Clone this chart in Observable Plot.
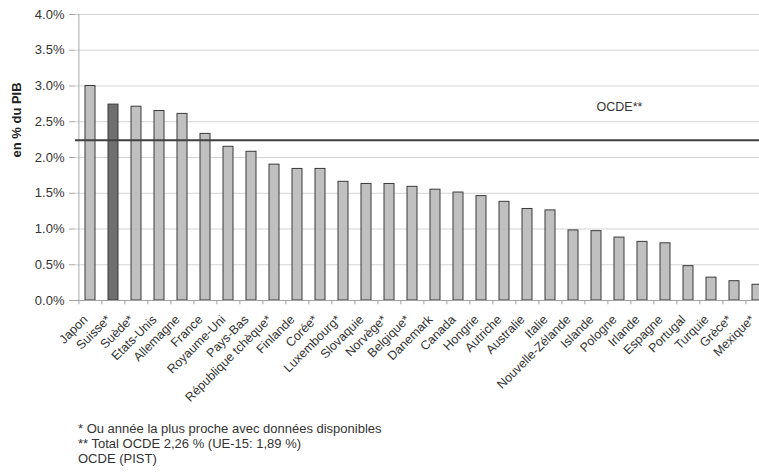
<!DOCTYPE html>
<html>
<head>
<meta charset="utf-8">
<script src="https://cdn.jsdelivr.net/npm/d3@7"></script>
<script src="https://cdn.jsdelivr.net/npm/@observablehq/plot@0.6"></script>
<style>
  html, body { margin: 0; padding: 0; background: #fff; overflow: hidden; width: 759px; height: 475px; }
  #chart svg { display: block; overflow: hidden; }
  #notes { font-family: "Liberation Sans", Arial, sans-serif; font-size: 13px; color: #333; margin-left: 78px; margin-top: 11px; line-height: 15px; }
</style>
</head>
<body>
<div id="chart"></div>
<div id="notes">
  <div>* Ou année la plus proche avec données disponibles</div>
  <div>** Total OCDE 2,26 % (UE-15: 1,89 %)</div>
  <div>OCDE (PIST)</div>
</div>
<script>
const countries = ["Japon","Suisse*","Suède*","Etats-Unis","Allemagne","France","Royaume-Uni","Pays-Bas","République tchèque*","Finlande","Corée*","Luxembourg*","Slovaquie","Norvège*","Belgique*","Danemark","Canada","Hongrie","Autriche","Australie","Italie","Nouvelle-Zélande","Islande","Pologne","Irlande","Espagne","Portugal","Turquie","Grèce*","Mexique*"];
const values = [3.00,2.74,2.71,2.65,2.61,2.33,2.15,2.08,1.90,1.84,1.84,1.66,1.63,1.63,1.59,1.55,1.51,1.46,1.38,1.28,1.26,0.98,0.97,0.88,0.82,0.80,0.48,0.32,0.27,0.22];
const highlighted = ["Suisse*"];
const ocdeValue = 2.24;
const ocdeLabel = "OCDE**";
const yTicks = [0,0.5,1,1.5,2,2.5,3,3.5,4];
const yLabel = "en % du PIB";

const data = countries.map((c, i) => ({country: c, value: values[i], hi: highlighted.includes(c)}));
const font = "Liberation Sans, Arial, sans-serif";
const half = 697 / 30 / 2;

const chart = Plot.plot({
  width: 759,
  height: 410,
  marginLeft: 75,
  marginRight: 0,
  marginTop: 14,
  marginBottom: 110,
  style: {fontFamily: font, fontSize: "12px", color: "#333", background: "#fff"},
  x: {type: "band", domain: countries, range: [75, 772], paddingInner: 0.56, paddingOuter: 0, align: 0.5},
  y: {domain: [0, 4], range: [300, 14]},
  marks: [
    Plot.gridY(yTicks, {stroke: "#d4d4d4", strokeOpacity: 1, strokeWidth: 1}),
    Plot.ruleX([countries[0]], {x: d => d, y1: 0, y2: 4, dx: -half, stroke: "#a8a8a8"}),
    Plot.barY(data, {x: "country", y: "value", fill: d => d.hi ? "#6f6f6f" : "#c0c0c0", stroke: "#3a3a3a", strokeWidth: 1}),
    Plot.ruleY([0], {stroke: "#a0a0a0"}),
    Plot.ruleX(countries, {x: d => d, y1: 0, y2: -0.06, dx: -half, stroke: "#a0a0a0"}),
    Plot.ruleY([ocdeValue], {stroke: "#404040", strokeWidth: 2}),
    Plot.text([ocdeLabel], {x: () => "Pologne", y: () => 2.71, text: d => d, fill: "#333", fontSize: 12.5}),
    Plot.axisY(yTicks, {tickSize: 6, tickPadding: 5, stroke: "#a8a8a8", tickFormat: d => d.toFixed(1) + "%", label: null, fill: "#333", fontSize: 13}),
    Plot.axisX({tickSize: 0, tickRotate: -45, tickPadding: 17, dx: -5, label: null, fill: "#333", fontSize: 12.5}),
    Plot.text([yLabel], {frameAnchor: "left", dx: -59, rotate: -90, text: d => d, fontWeight: "bold", fontSize: 13, fill: "#222"})
  ]
});
document.getElementById("chart").appendChild(chart);
</script>
</body>
</html>
